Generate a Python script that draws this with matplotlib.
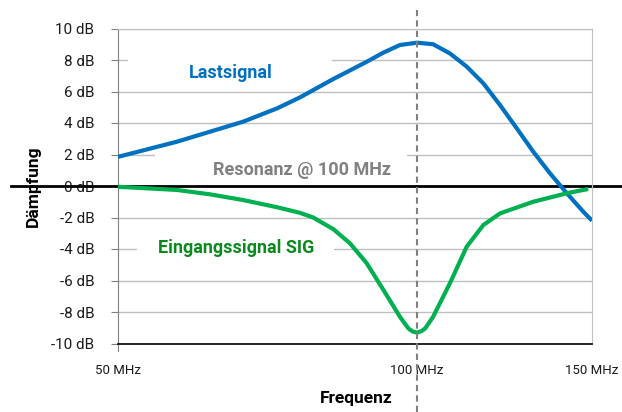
import matplotlib
matplotlib.use("Agg")
import matplotlib.pyplot as plt
from matplotlib.patches import Rectangle
from matplotlib.ticker import NullLocator

plt.rcParams['font.family'] = ['Roboto', 'DejaVu Sans']

# ---- data ----
freq_last = [50, 57.3, 61.9, 66.8, 72.3, 76.2, 82.4, 89.0, 92.5, 96.1, 100, 103.8,
             107.9, 112.2, 116.6, 121.2, 126.0, 130.9, 136.1, 141.5, 147.0, 150]
db_last = [1.85, 2.81, 3.45, 4.08, 4.93, 5.62, 6.8, 7.89, 8.47, 8.95, 9.1, 9.0,
           8.42, 7.58, 6.52, 5.14, 3.66, 2.18, 0.80, -0.46, -1.63, -2.2]

freq_sig = [50, 57.3, 61.9, 66.8, 72.3, 76.2, 78.6, 82.4, 85.6, 89.0, 92.5, 96.1,
            98.0, 99.0, 100, 101.0, 101.9, 103.8, 107.9, 112.2, 116.6, 121.2, 130.9,
            141.5, 148.7]
db_sig = [-0.05, -0.25, -0.53, -0.89, -1.35, -1.7, -2.0, -2.75, -3.64, -4.91, -6.60, -8.30,
          -9.04, -9.24, -9.31, -9.22, -9.04, -8.30, -6.18, -3.85, -2.48, -1.74, -1.0,
          -0.46, -0.19]

y_ticks = [10, 8, 6, 4, 2, 0, -2, -4, -6, -8, -10]
y_ticklabels = ["10 dB", "8 dB", "6 dB", "4 dB", "2 dB", "0 dB", "-2 dB", "-4 dB",
                "-6 dB", "-8 dB", "-10 dB"]
x_ticks = [50, 100, 150]
x_ticklabels = ["50 MHz", "100 MHz", "150 MHz"]
resonance = 100

BLUE = "#0070C0"
GREEN = "#00B050"
GREEN_TXT = "#0A8A1E"
GRAY_TXT = "#808080"

fig = plt.figure(figsize=(6.22, 4.12), dpi=100)
ax = fig.add_axes([118/622, (412-343.5)/412, 474/622, 315/412])
ax.set_xscale('log')
ax.set_xlim(50, 150)
ax.set_ylim(-10, 10)

ax.set_axisbelow(True)
ax.set_yticks(y_ticks)
ax.set_yticklabels(y_ticklabels, fontsize=11, color="#1a1a1a")
ax.set_xticks(x_ticks)
ax.set_xticklabels(x_ticklabels, fontsize=9.5, color="#1a1a1a")
ax.xaxis.set_minor_locator(NullLocator())
ax.tick_params(axis='y', length=5, color="#808080", pad=12)
ax.tick_params(axis='x', length=0, pad=15)
ax.grid(axis='y', color="#BFBFBF", lw=1)

ax.spines['left'].set_color("#808080")
ax.spines['left'].set_bounds(-10.45, 10)
ax.spines['top'].set_color("#BFBFBF")
ax.spines['right'].set_color("#BFBFBF")
ax.spines['bottom'].set_color("black")
ax.spines['bottom'].set_linewidth(1.2)

# white boxes behind annotations
for (x0, y0, w, h) in [(0.021, 0.821, 0.430, 0.127),
                       (0.078, 0.519, 0.532, 0.095),
                       (0.040, 0.259, 0.416, 0.085)]:
    ax.add_patch(Rectangle((x0, y0), w, h, transform=ax.transAxes,
                           facecolor="white", edgecolor="none", zorder=1))

# zero line across the figure
ax.plot([-0.226, 1.063], [0, 0], transform=ax.get_yaxis_transform(),
        color="black", lw=2, clip_on=False, zorder=2)

ax.plot(freq_last, db_last, color=BLUE, lw=3, zorder=3, solid_capstyle='butt',
        solid_joinstyle='round')
ax.plot(freq_sig, db_sig, color=GREEN, lw=3, zorder=3, solid_capstyle='butt',
        solid_joinstyle='round')

# resonance dashed line
ax.plot([resonance, resonance], [-0.217, 1.059], transform=ax.get_xaxis_transform(),
        color="#808080", lw=1.5, ls=(0, (3, 2)), clip_on=False, zorder=5)

ax.text(0.237, 0.86, "Lastsignal", transform=ax.transAxes, color=BLUE,
        fontsize=13, fontweight='bold', ha='center', va='center', zorder=4)
ax.text(0.388, 0.551, "Resonanz @ 100 MHz", transform=ax.transAxes, color=GRAY_TXT,
        fontsize=13, fontweight='bold', ha='center', va='center', zorder=4)
ax.text(0.249, 0.304, "Eingangssignal SIG", transform=ax.transAxes, color=GREEN_TXT,
        fontsize=13, fontweight='bold', ha='center', va='center', zorder=4)

fig.text(33/622, 1 - 186/412, "Dämpfung", rotation=90, fontsize=12.5, fontweight='bold',
         ha='center', va='center', color="black")
fig.text(356/622, 1 - 399/412, "Frequenz", fontsize=12.5, fontweight='bold',
         ha='center', va='center', color="black")

fig.savefig("out.png", dpi=100)
